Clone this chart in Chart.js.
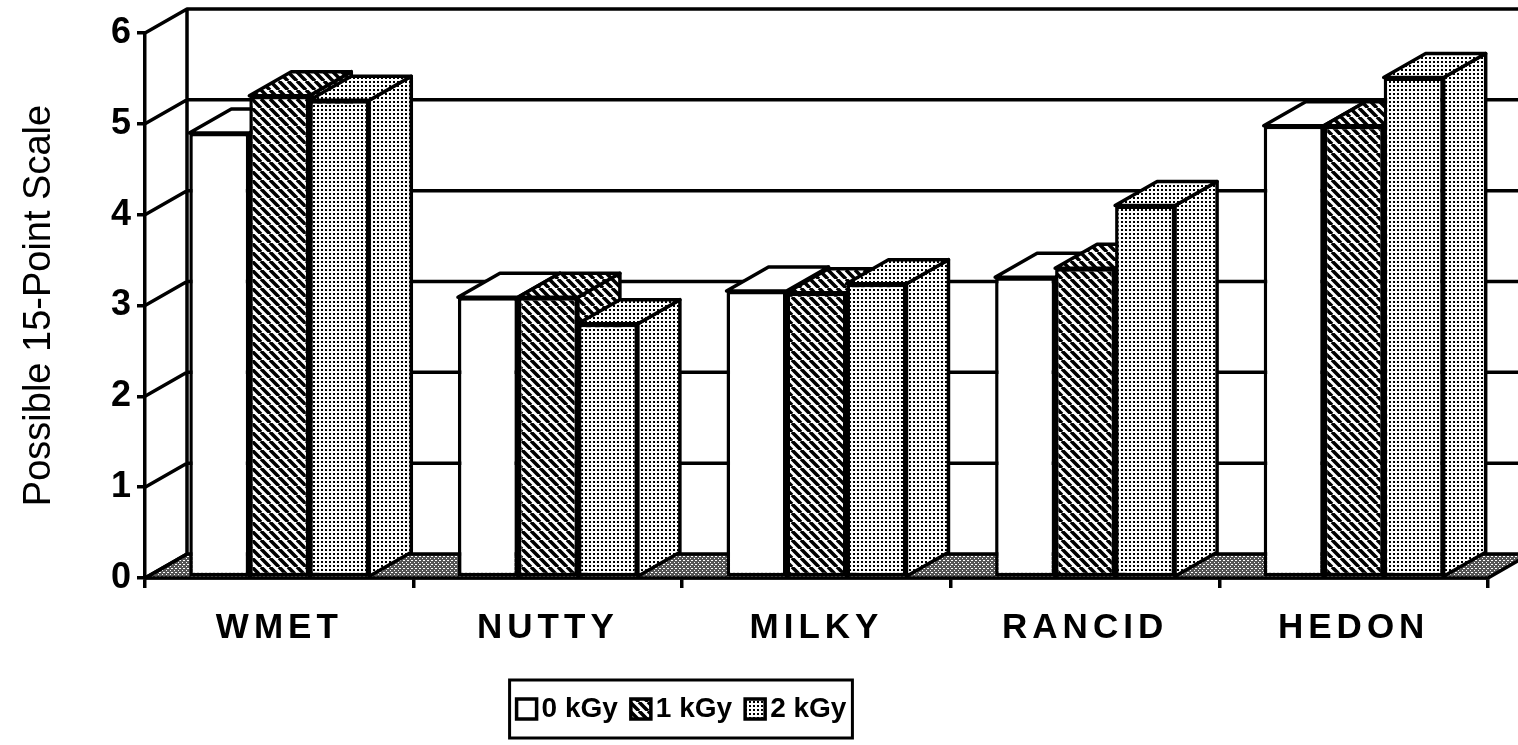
<!DOCTYPE html>
<html lang="en">
<head>
<meta charset="utf-8">
<title>Possible 15-Point Scale</title>
<script src="https://cdn.jsdelivr.net/npm/chart.js@4"></script>
<style>
  body { margin: 0; background: #fff; }
  #wrap { width: 1518px; height: 745px; }
</style>
</head>
<body>
<div id="wrap"><canvas id="chart"></canvas></div>
<script>
// data
const categories = ['WMET', 'NUTTY', 'MILKY', 'RANCID', 'HEDON'];
const seriesLabels = ['0 kGy', '1 kGy', '2 kGy'];
const dose0 = [4.9, 3.09, 3.16, 3.31, 4.98];
const dose1 = [5.31, 3.09, 3.14, 3.41, 4.98];
const dose2 = [5.26, 2.8, 3.24, 4.1, 5.51];
const yTicks = [0, 1, 2, 3, 4, 5, 6];

// depth of the fake 3D box (pixels)
const DX = 42, DY = -24;
// legend text sits closer to its swatch than Chart.js puts it
const LEGEND_SHIFT = 9;

function tile(w, h, paint) {
  const c = document.createElement('canvas');
  c.width = w; c.height = h;
  const g = c.getContext('2d');
  paint(g);
  return g.createPattern(c, 'repeat');
}

const hatch = tile(9, 9, g => {
  g.fillStyle = '#fff'; g.fillRect(0, 0, 9, 9);
  g.strokeStyle = '#000'; g.lineWidth = 3.6;
  g.beginPath();
  for (let k = -9; k <= 9; k += 9) { g.moveTo(k, 0); g.lineTo(k + 9, 9); }
  g.stroke();
});
const dots = tile(4, 4, g => {
  g.fillStyle = '#fff'; g.fillRect(0, 0, 4, 4);
  g.fillStyle = '#000'; g.fillRect(1, 1, 2, 2);
});
const floorFill = tile(4, 4, g => {
  g.fillStyle = '#555'; g.fillRect(0, 0, 4, 4);
  g.fillStyle = '#fff'; g.fillRect(0, 0, 1, 1); g.fillRect(2, 2, 1, 1); g.fillRect(3, 0, 1, 1);
});

function face(ctx, pts, fill) {
  ctx.beginPath();
  ctx.moveTo(pts[0][0], pts[0][1]);
  for (let k = 1; k < pts.length; k++) ctx.lineTo(pts[k][0], pts[k][1]);
  ctx.closePath();
  ctx.fillStyle = fill;
  ctx.fill();
  ctx.stroke();
}

const depthPlugin = {
  id: 'depth',
  afterLayout(chart) {
    // move legend so it sits under the middle of the plot like the original
    const lg = chart.legend;
    lg.left = 0; lg.right = 1372; lg.width = 1372;
    if (!lg._shifted) {
      const d = lg.draw;
      lg.draw = function (a) {
        const c = this.ctx;
        c.save();
        c.translate(0, 0);
        const ft = c.fillText;
        c.fillText = function (t, x, y, m) {
          return m === undefined ? ft.call(c, t, x - LEGEND_SHIFT, y) : ft.call(c, t, x - LEGEND_SHIFT, y, m);
        };
        d.call(this, a);
        delete c.fillText;
        c.restore();
      };
      lg._shifted = true;
    }
    const xs = chart.scales.x;
    if (!xs._spaced) {
      const dl = xs.drawLabels;
      xs.drawLabels = function (a) { this.ctx.save(); this.ctx.letterSpacing = '5px'; dl.call(this, a); this.ctx.restore(); };
      xs._spaced = true;
    }
  },
  beforeDatasetsDraw(chart) {
    const { ctx, chartArea: a, scales: { y } } = chart;
    ctx.save();
    ctx.strokeStyle = '#000';
    ctx.lineWidth = 3.5;
    ctx.lineJoin = 'round';
    // floor
    face(ctx, [[a.left, a.bottom], [a.right, a.bottom], [a.right + DX, a.bottom + DY], [a.left + DX, a.bottom + DY]], floorFill);
    // side wall and back wall gridlines
    ctx.beginPath();
    ctx.moveTo(a.left + DX, a.bottom + DY);
    ctx.lineTo(a.left + DX, a.top + DY);
    yTicks.forEach(v => {
      const py = y.getPixelForValue(v);
      ctx.moveTo(a.left, py);
      ctx.lineTo(a.left + DX, py + DY);
      if (v > 0) ctx.lineTo(a.right + DX, py + DY);
    });
    ctx.stroke();

    // bars: side + top, then the library draws the front face
    const metas = chart.data.datasets.map((_, i) => chart.getDatasetMeta(i));
    categories.forEach((_, j) => {
      metas.forEach((meta, i) => {
        const bar = meta.data[j];
        const { x, y: top, base, width } = bar.getProps(['x', 'y', 'base', 'width'], true);
        const l = x - width / 2, r = x + width / 2;
        const fill = chart.data.datasets[i].backgroundColor;
        ctx.lineWidth = 3.5;
        ctx.strokeStyle = '#000';
        face(ctx, [[r, top], [r + DX, top + DY], [r + DX, base + DY], [r, base]], fill);
        face(ctx, [[l, top], [l + DX, top + DY], [r + DX, top + DY], [r, top]], fill);
        bar.draw(ctx);
      });
    });
    ctx.restore();
    return false;
  },
  afterDraw(chart) {
    const boxes = chart.legend.legendHitBoxes;
    if (!boxes || !boxes.length) return;
    const ctx = chart.ctx;
    const left = Math.min(...boxes.map(b => b.left)) - 7;
    const right = Math.max(...boxes.map(b => b.left + b.width)) - LEGEND_SHIFT + 6;
    const top = boxes[0].top - 15;
    const bottom = boxes[0].top + boxes[0].height + 15;
    ctx.save();
    ctx.strokeStyle = '#000';
    ctx.lineWidth = 3;
    ctx.strokeRect(left, top, right - left, bottom - top);
    ctx.restore();
  }
};

Chart.defaults.font.family = "'Liberation Sans', Arial, Helvetica, sans-serif";
Chart.defaults.color = '#000';

new Chart(document.getElementById('chart'), {
  type: 'bar',
  data: {
    labels: categories,
    datasets: [
      { label: seriesLabels[0], data: dose0, backgroundColor: '#ffffff' },
      { label: seriesLabels[1], data: dose1, backgroundColor: hatch },
      { label: seriesLabels[2], data: dose2, backgroundColor: dots }
    ]
  },
  options: {
    responsive: true,
    maintainAspectRatio: false,
    animation: false,
    layout: { padding: { top: 33, right: 30, bottom: 12, left: 0 } },
    datasets: {
      bar: {
        borderColor: '#000',
        borderWidth: 3.5,
        borderSkipped: false,
        categoryPercentage: 0.67,
        barPercentage: 1.0
      }
    },
    scales: {
      x: {
        ticks: { font: { size: 35, weight: 'bold' }, padding: 19 },
        grid: { drawOnChartArea: false, drawTicks: true, tickLength: 10, color: '#000', lineWidth: 3.5, offset: true },
        border: { display: true, color: '#000', width: 3.5 },
        afterFit(s) { s.height = 113; }
      },
      y: {
        min: 0,
        max: 6,
        ticks: { font: { size: 36, weight: 'bold' }, padding: 6 },
        afterBuildTicks(s) { s.ticks = yTicks.map(v => ({ value: v })); },
        grid: { drawOnChartArea: false, drawTicks: true, tickLength: 8, color: '#000', lineWidth: 3.5 },
        border: { display: true, color: '#000', width: 3.5 },
        title: {
          display: true,
          text: 'Possible 15-Point Scale',
          font: { size: 38 },
          padding: { top: 17, bottom: 0 }
        },
        afterFit(s) { s.width = 145; }
      }
    },
    plugins: {
      legend: {
        position: 'bottom',
        labels: { boxWidth: 20, boxHeight: 20, padding: 4, font: { size: 28, weight: 'bold' } }
      },
      tooltip: { enabled: false }
    }
  },
  plugins: [depthPlugin]
});
</script>
</body>
</html>
